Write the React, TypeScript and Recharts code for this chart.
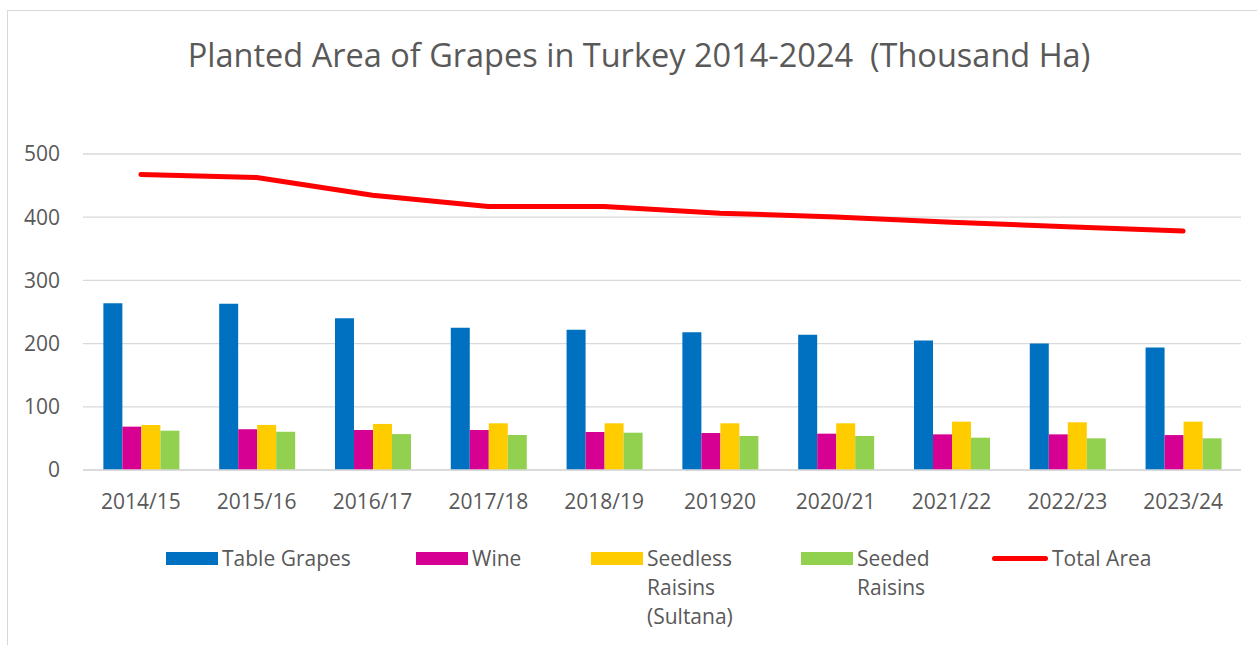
import React from 'react';
import { ComposedChart, Bar, Line, XAxis, YAxis, CartesianGrid, Legend } from 'recharts';

const seasons = ['2014/15', '2015/16', '2016/17', '2017/18', '2018/19', '201920', '2020/21', '2021/22', '2022/23', '2023/24'];
const tableGrapes = [264, 263, 240, 225, 222, 218, 214, 205, 200, 194];
const wine = [68.6, 64.3, 63.3, 63.3, 60.1, 58.5, 57.5, 56.4, 56.4, 55.3];
const seedless = [71.2, 71.3, 72.9, 73.9, 73.9, 73.9, 73.9, 76.5, 75.5, 76.5];
const seeded = [62.2, 60.5, 56.8, 55.3, 59, 53.8, 53.8, 51.1, 50.1, 50.1];
const totalArea = [467.6, 462.8, 434.6, 417, 417, 406.4, 400.5, 392, 385, 378];
const yTicks = [0, 100, 200, 300, 400, 500];

const data = seasons.map((season, i) => ({
  season,
  tableGrapes: tableGrapes[i],
  wine: wine[i],
  seedless: seedless[i],
  seeded: seeded[i],
  total: totalArea[i],
}));

const TEXT = '#595959';
const GRID = '#d9d9d9';
const FONT = '"Open Sans", sans-serif';

const legendItems = [
  { label: ['Table Grapes'], color: '#0070C0', kind: 'rect', x: 166 },
  { label: ['Wine'], color: '#D60093', kind: 'rect', x: 416 },
  { label: ['Seedless', 'Raisins', '(Sultana)'], color: '#FFCC00', kind: 'rect', x: 591 },
  { label: ['Seeded', 'Raisins'], color: '#92D050', kind: 'rect', x: 801 },
  { label: ['Total Area'], color: '#FF0000', kind: 'line', x: 992 },
];

function ChartLegend() {
  return (
    <div style={{ position: 'relative', width: 1257, height: 100, fontFamily: FONT }}>
      {legendItems.map((item) => (
        <div key={item.label.join(' ')} style={{ position: 'absolute', left: item.x, top: 0 }}>
          {item.kind === 'rect' ? (
            <div style={{ position: 'absolute', left: 0, top: 7, width: 52, height: 13, background: item.color }} />
          ) : (
            <div
              style={{
                position: 'absolute',
                left: 0,
                top: 11,
                width: 56,
                height: 5,
                borderRadius: 3,
                background: item.color,
              }}
            />
          )}
          <div
            style={{
              position: 'absolute',
              left: item.kind === 'rect' ? 56 : 60,
              top: -1,
              fontSize: 21,
              lineHeight: '29px',
              color: TEXT,
              whiteSpace: 'nowrap',
            }}
          >
            {item.label.map((l) => (
              <div key={l}>{l}</div>
            ))}
          </div>
        </div>
      ))}
    </div>
  );
}

export default function App() {
  return (
    <div
      style={{
        position: 'absolute',
        left: 0,
        top: 0,
        width: 1257,
        height: 645,
        overflow: 'hidden',
        background: '#fff',
        fontFamily: FONT,
      }}
    >
      <div
        style={{
          position: 'absolute',
          left: 7,
          top: 10,
          width: 1400,
          height: 800,
          border: `1.5px solid ${GRID}`,
          boxSizing: 'border-box',
        }}
      />
      <div
        style={{
          position: 'absolute',
          left: 0,
          top: 35,
          width: 1278,
          textAlign: 'center',
          fontSize: 32.5,
          lineHeight: '40px',
          color: TEXT,
          whiteSpace: 'pre',
        }}
      >
        {'Planted Area of Grapes in Turkey 2014-2024  (Thousand Ha)'}
      </div>
      <ComposedChart
        width={1257}
        height={645}
        data={data}
        margin={{ top: 154, right: 16, bottom: 145, left: 0 }}
        barCategoryGap="17.6%"
        barGap={0}
      >
        <CartesianGrid vertical={false} stroke={GRID} strokeWidth={1.3} />
        <XAxis
          dataKey="season"
          height={30}
          tickLine={false}
          tickSize={0}
          tickMargin={24}
          axisLine={{ stroke: GRID, strokeWidth: 1.3 }}
          tick={{ fill: TEXT, fontSize: 21, fontFamily: FONT }}
          interval={0}
        />
        <YAxis
          width={83}
          domain={[0, 500]}
          ticks={yTicks}
          axisLine={false}
          tickLine={false}
          tickSize={0}
          tickMargin={23}
          tick={{ fill: TEXT, fontSize: 21, fontFamily: FONT }}
        />
        <Bar dataKey="tableGrapes" name="Table Grapes" fill="#0070C0" isAnimationActive={false} />
        <Bar dataKey="wine" name="Wine" fill="#D60093" isAnimationActive={false} />
        <Bar dataKey="seedless" name="Seedless Raisins (Sultana)" fill="#FFCC00" isAnimationActive={false} />
        <Bar dataKey="seeded" name="Seeded Raisins" fill="#92D050" isAnimationActive={false} />
        <Line
          dataKey="total"
          name="Total Area"
          type="linear"
          stroke="#FF0000"
          strokeWidth={5}
          strokeLinecap="round"
          strokeLinejoin="round"
          dot={false}
          activeDot={false}
          isAnimationActive={false}
        />
        <Legend
          layout="vertical"
          align="center"
          verticalAlign="middle"
          wrapperStyle={{ left: 0, top: 545, width: 1257 }}
          content={() => <ChartLegend />}
        />
      </ComposedChart>
    </div>
  );
}
